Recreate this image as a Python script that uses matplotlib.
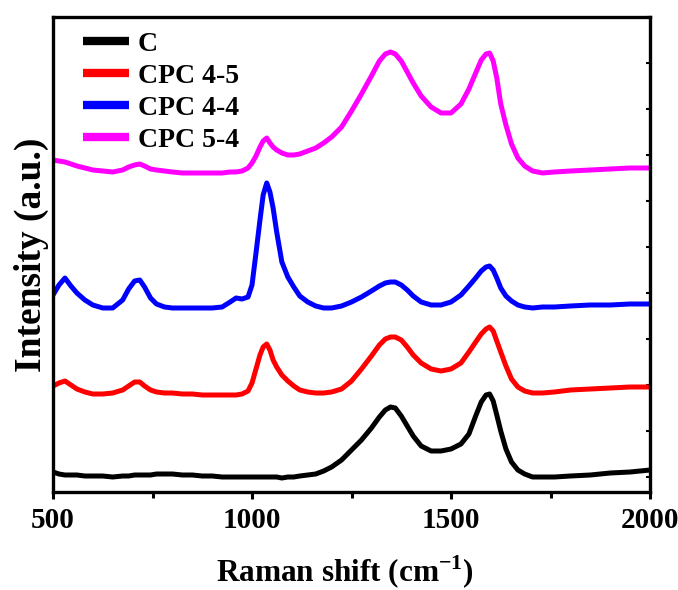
import matplotlib
matplotlib.use("Agg")
import matplotlib.pyplot as plt
import matplotlib.transforms as mtransforms
from matplotlib.ticker import MultipleLocator

plt.rcParams['font.family'] = ['Liberation Serif', 'DejaVu Serif']
plt.rcParams['mathtext.fontset'] = 'custom'
plt.rcParams['mathtext.rm'] = 'Liberation Serif:bold'
plt.rcParams['mathtext.bf'] = 'Liberation Serif:bold'

# Raman shift (cm-1)
shift = [500, 515, 530, 545, 560, 580, 600, 625, 650, 675,
         690, 705, 718, 730, 745, 760, 780, 800, 825, 850,
         875, 900, 925, 945, 960, 975, 990, 1000, 1010, 1020,
         1028, 1037, 1045, 1053, 1062, 1075, 1090, 1105, 1120, 1140,
         1160, 1180, 1200, 1225, 1250, 1275, 1300, 1320, 1335, 1348,
         1360, 1375, 1390, 1405, 1425, 1450, 1475, 1500, 1525, 1545,
         1562, 1576, 1588, 1597, 1606, 1615, 1625, 1638, 1652, 1668,
         1685, 1705, 1730, 1760, 1800, 1850, 1900, 1950, 2000]

# Stacked intensities (a.u.) per sample
int_c = [5, 3, 2, 2, 2, 1, 1, 1, 0, 1,
         1, 2, 2, 2, 2, 3, 3, 3, 2, 2,
         1, 1, 0, 0, 0, 0, 0, 0, 0, 0,
         0, 0, 0, 0, 0, -1, 0, 0, 1, 2,
         3, 6, 10, 17, 27, 37, 49, 60, 67, 70,
         69, 61, 51, 41, 31, 26, 26, 28, 33, 43,
         61, 75, 82, 83, 76, 62, 46, 28, 15, 7,
         3, 0, 0, 0, 1, 2, 4, 5, 7]

int_cpc45 = [91, 94, 96, 92, 88, 85, 83, 83, 84, 87,
             91, 95, 95, 91, 87, 85, 84, 84, 83, 83,
             82, 82, 82, 82, 82, 83, 86, 94, 108, 122,
             130, 133, 127, 117, 110, 102, 96, 91, 87, 85,
             84, 84, 85, 88, 96, 108, 121, 132, 138, 140,
             140, 137, 130, 122, 114, 108, 106, 108, 114, 125,
             135, 143, 148, 150, 146, 136, 125, 111, 98, 90,
             86, 84, 84, 85, 87, 88, 89, 90, 90]

int_cpc44 = [182, 192, 199, 191, 184, 177, 172, 169, 169, 177,
             188, 196, 197, 190, 179, 173, 170, 169, 169, 169,
             169, 169, 170, 175, 179, 178, 180, 192, 224, 257,
             282, 294, 285, 269, 245, 215, 200, 190, 181, 175,
             171, 169, 169, 171, 175, 180, 186, 191, 194, 195,
             195, 192, 187, 181, 175, 172, 172, 175, 182, 191,
             199, 206, 210, 211, 207, 199, 189, 181, 176, 172,
             170, 169, 170, 170, 171, 172, 172, 173, 173]

int_cpc54 = [317, 316, 315, 313, 311, 309, 307, 306, 305, 307,
             310, 312, 313, 311, 308, 307, 306, 305, 304, 304,
             304, 304, 304, 305, 305, 306, 309, 314, 321, 330,
             336, 339, 334, 330, 327, 324, 322, 322, 323, 326,
             329, 334, 340, 350, 366, 383, 401, 416, 423, 425,
             423, 416, 405, 394, 381, 370, 364, 364, 373, 388,
             404, 417, 423, 424, 416, 399, 373, 352, 333, 319,
             311, 306, 304, 305, 306, 307, 308, 309, 309]

series = [
    ("C", int_c, "#000000"),
    ("CPC 4-5", int_cpc45, "#ff0000"),
    ("CPC 4-4", int_cpc44, "#0000ff"),
    ("CPC 5-4", int_cpc54, "#ff00ff"),
]

fig = plt.figure(figsize=(6.78, 5.90), dpi=100)
ax = fig.add_axes([0.0782, 0.1661, 0.8805, 0.8051])

for label, vals, color in series:
    ax.plot(shift, vals, color=color, lw=3.6, label=label,
            solid_joinstyle='round', solid_capstyle='round')

ax.set_xlim(500, 2000)
ax.set_ylim(-15, 460)

ax.xaxis.set_major_locator(MultipleLocator(500))
ax.xaxis.set_minor_locator(MultipleLocator(250))
ax.yaxis.set_major_locator(MultipleLocator(46))

ax.tick_params(axis='x', which='major', direction='out', length=5, width=2.2,
               labelsize=21, pad=6)
ax.tick_params(axis='x', which='minor', direction='out', length=4, width=2.2)
ax.tick_params(axis='y', which='both', left=False, labelleft=False,
               right=True, direction='in', length=3, width=1.5)
for lab in ax.get_xticklabels():
    lab.set_fontweight('bold')

# keep the last tick label inside the figure edge
fig.canvas.draw()
last = ax.get_xticklabels()[-1]
last.set_transform(last.get_transform() +
                   mtransforms.ScaledTranslation(-4 / 72, 0, fig.dpi_scale_trans))

for sp in ax.spines.values():
    sp.set_linewidth(2.4)

ax.set_xlabel(r'Raman shift (cm$^{-1}$)', fontsize=22.5, fontweight='bold')
ax.xaxis.set_label_coords(0.489, -0.13)
ax.set_ylabel('Intensity (a.u.)', fontsize=27, fontweight='bold')
ax.yaxis.set_label_coords(-0.007, 0.5)

leg = ax.legend(loc='upper left', frameon=False,
                prop={'weight': 'bold', 'size': 20},
                handlelength=1.65, handletextpad=0.32, labelspacing=0.23,
                borderpad=0, borderaxespad=0, bbox_to_anchor=(0.050, 0.969))
for h in leg.get_lines():
    h.set_linewidth(6)
    h.set_solid_capstyle('butt')

fig.savefig("out.png", dpi=100)
